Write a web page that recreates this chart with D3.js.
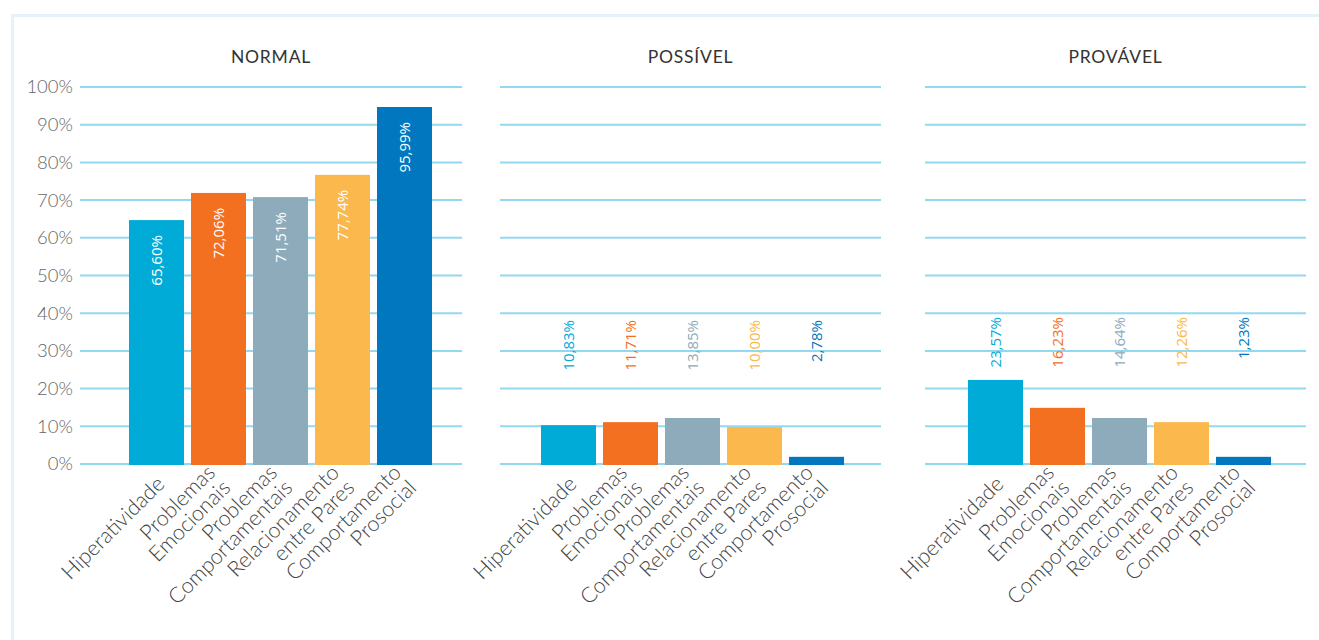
<!DOCTYPE html>
<html>
<head>
<meta charset="utf-8">
<script src="https://cdn.jsdelivr.net/npm/d3@7"></script>
<style>
  html, body { margin: 0; padding: 0; background: #fff; }
  svg { display: block; }
</style>
</head>
<body>
<svg id="chart" width="1319" height="640"></svg>
<script>
// ---- data ----
const categories = ["Hiperatividade", "Problemas Emocionais", "Problemas Comportamentais", "Relacionamento entre Pares", "Comportamento Prosocial"];
const panelTitles = ["NORMAL", "POSSÍVEL", "PROVÁVEL"];
// bar heights as drawn in the reference
const normalValues = [64.7, 71.9, 70.8, 76.7, 94.7];
const possivelValues = [10.3, 11.1, 12.2, 9.8, 1.9];
const provavelValues = [22.3, 14.9, 12.2, 11.1, 1.9];
// value labels as printed
const normalLabels = ["65,60%", "72,06%", "71,51%", "77,74%", "95,99%"];
const possivelLabels = ["10,83%", "11,71%", "13,85%", "10,00%", "2,78%"];
const provavelLabels = ["23,57%", "16,23%", "14,64%", "12,26%", "1,23%"];
const yTicks = [0, 10, 20, 30, 40, 50, 60, 70, 80, 90, 100];
const colors = ["#00acd7", "#f37021", "#8eabbb", "#fbb84c", "#0077be"];

const seriesValues = [normalValues, possivelValues, provavelValues];
const seriesLabels = [normalLabels, possivelLabels, provavelLabels];

// ---- layout ----
const svg = d3.select("#chart");
const yTop = 87, yBottom = 464;
const y = d3.scaleLinear().domain([0, 100]).range([yBottom, yTop]);
const panels = [
  { x0: 80, x1: 462, barStart: 129 },
  { x0: 500, x1: 881, barStart: 541 },
  { x0: 925, x1: 1306, barStart: 968 }
];

// frame
svg.append("path")
  .attr("d", "M12.5,650 L12.5,15.5 L1330,15.5")
  .attr("fill", "none")
  .attr("stroke", "#e4f3f9")
  .attr("stroke-width", 3);

panels.forEach((p, pi) => {
  const g = svg.append("g");
  const x = d3.scaleBand()
    .domain(categories)
    .range([p.barStart, p.barStart + 303])
    .paddingInner(0.113)
    .paddingOuter(0);

  // gridlines
  g.selectAll("line.grid").data(yTicks).join("line")
    .attr("class", "grid")
    .attr("x1", p.x0).attr("x2", p.x1)
    .attr("y1", d => y(d)).attr("y2", d => y(d))
    .attr("stroke", "#93d8f1")
    .attr("stroke-width", 2);

  // y axis labels (first panel only)
  if (pi === 0) {
    const ax = d3.axisLeft(y).tickValues(yTicks).tickSize(0).tickPadding(0).tickFormat(d => d + "%");
    const ag = g.append("g").attr("transform", `translate(${p.x0 - 7},0)`).call(ax);
    ag.select(".domain").remove();
    ag.selectAll("text")
      .attr("font-family", "Lato, sans-serif")
      .attr("font-weight", 300)
      .attr("font-size", 18.5)
      .attr("fill", "#666");
  }

  // title
  g.append("text")
    .attr("x", (p.x0 + p.x1) / 2)
    .attr("y", 63)
    .attr("text-anchor", "middle")
    .attr("font-family", "Lato, sans-serif")
    .attr("font-size", 17.5)
    .attr("letter-spacing", 0.8)
    .attr("fill", "#333")
    .text(panelTitles[pi]);

  const vals = seriesValues[pi];
  const labs = seriesLabels[pi];

  // bars
  g.selectAll("rect.bar").data(categories).join("rect")
    .attr("class", "bar")
    .attr("x", d => x(d))
    .attr("y", (d, i) => y(vals[i]))
    .attr("width", x.bandwidth())
    .attr("height", (d, i) => y(0) - y(vals[i]) + 1)
    .attr("fill", (d, i) => colors[i]);

  // value labels
  g.selectAll("text.val").data(categories).join("text")
    .attr("class", "val")
    .attr("transform", (d, i) => {
      const cx = x(d) + x.bandwidth() / 2;
      const ty = pi === 0 ? y(vals[i]) + 15 : (pi === 1 ? 320 : 317);
      return `translate(${cx},${ty}) rotate(-90)`;
    })
    .attr("text-anchor", "end")
    .attr("dy", "0.36em")
    .attr("font-family", "'Open Sans', sans-serif")
    .attr("font-weight", 500)
    .attr("font-size", 15)
    .attr("fill", (d, i) => pi === 0 ? "#fff" : colors[i])
    .text((d, i) => labs[i]);

  // x labels
  const xl = g.selectAll("text.xl").data(categories).join("text")
    .attr("class", "xl")
    .attr("transform", d => `translate(${x(d) + x.bandwidth() / 2 + 4},${480}) rotate(-45)`)
    .attr("text-anchor", "end")
    .attr("font-family", "Lato, sans-serif")
    .attr("font-weight", 300)
    .attr("font-size", 21.5)
    .attr("fill", "#444");
  xl.each(function(d) {
    const idx = d.indexOf(" ");
    const lines = idx < 0 ? [d] : [d.slice(0, idx), d.slice(idx + 1)];
    const t = d3.select(this);
    lines.forEach((ln, li) => {
      const off = lines.length === 1 ? 0.35 : (li === 0 ? -0.4 : 0.65);
      t.append("tspan").attr("x", 0).attr("dy", li === 0 ? off + "em" : "1.0em").text(ln);
    });
  });
});
</script>
</body>
</html>
